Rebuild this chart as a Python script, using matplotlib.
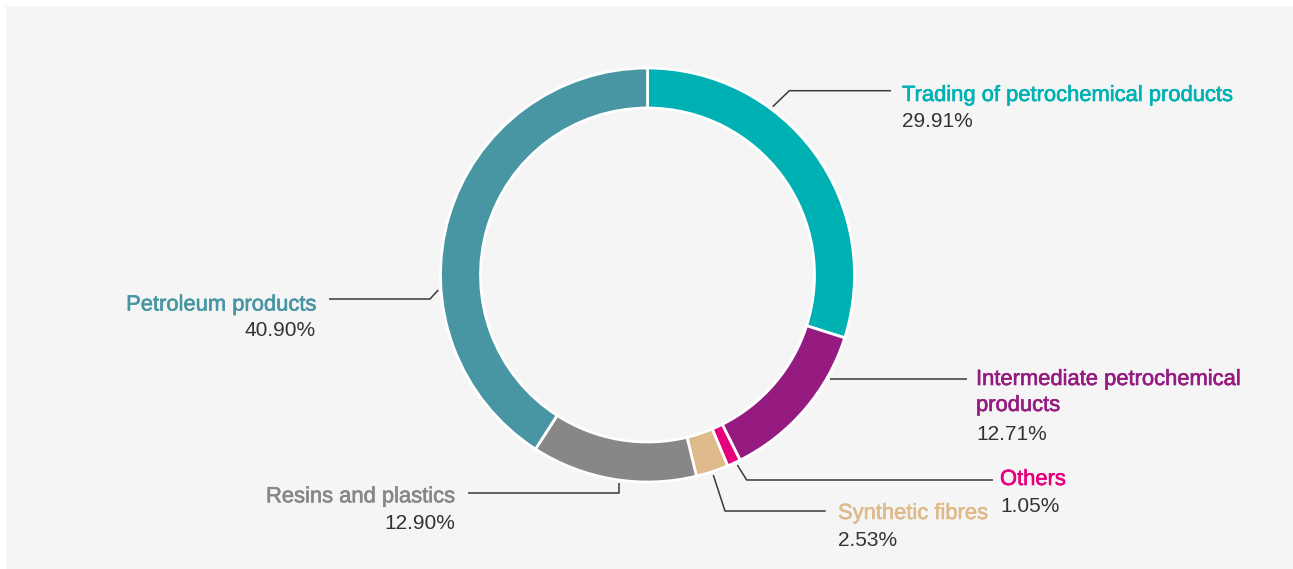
import matplotlib
matplotlib.use("Agg")
import matplotlib.pyplot as plt
import matplotlib.patheffects as pe
from matplotlib.patches import Rectangle

# sales breakdown by segment, clockwise from 12 o'clock
segments = ["Trading of petrochemical products", "Intermediate petrochemical\nproducts",
            "Others", "Synthetic fibres", "Resins and plastics", "Petroleum products"]
shares = [29.91, 12.71, 1.05, 2.53, 12.90, 40.90]
colors = ["#00b1b4", "#951b81", "#e5007d", "#dfba8b", "#878787", "#4896a3"]

W, H = 1293, 569
plt.rcParams['font.family'] = ['Liberation Sans', 'DejaVu Sans']

fig = plt.figure(figsize=(W / 100, H / 100), dpi=100, facecolor="white")
ax = fig.add_axes([0, 0, 1, 1])

ax.add_patch(Rectangle((6, 6), W, H, facecolor="#f5f5f5", edgecolor="none", zorder=0))

# y is flipped, so counterclock + startangle -90 runs clockwise from the top on screen
cx, cy, r = 647.5, 275, 207
ax.pie(shares, colors=colors, center=(cx, cy), radius=r, startangle=-90, counterclock=True,
       wedgeprops=dict(width=40, edgecolor="white", linewidth=2), frame=False)
ax.set_xlim(0, W)
ax.set_ylim(H, 0)          # pixel-style coordinates, y grows downwards
ax.set_aspect("equal")
ax.axis("off")

# leader lines (screen pixel points)
leaders = [
    [(772.7, 106.7), (789.3, 90.7), (891, 90.7)],
    [(830, 379), (966.7, 379)],
    [(737.3, 465), (746.7, 480), (993, 480)],
    [(713.3, 475), (725, 511), (825.7, 511)],
    [(619.3, 483.3), (619.3, 493.3), (467.7, 493.3)],
    [(438.3, 290), (430, 299), (329, 299)],
]
for pts in leaders:
    xs, ys = zip(*pts)
    ax.plot(xs, ys, color="#3a3a3a", lw=1.1, solid_capstyle="butt", zorder=3)

# label anchor: x, baseline of first name line, baseline of percentage, alignment
anchors = [
    (902, 101, 127, "left"),
    (976, 385, 440, "left"),
    (1000, 485, 512, "left"),
    (838, 519, 546.5, "left"),
    (455, 502.3, 529.3, "right"),
    (316, 310.5, 336, "right"),
]
for name, val, col, (x, yn, yp, ha) in zip(segments, shares, colors, anchors):
    for i, line in enumerate(name.split("\n")):
        ax.text(x, yn + 26 * i, line, color=col, fontsize=15.8, ha=ha, va="baseline",
                path_effects=[pe.withStroke(linewidth=0.45, foreground=col)])
    ax.text(x, yp, f"{val:.2f}%", color="#333333", fontsize=15, ha=ha, va="baseline")

fig.savefig("out.png", dpi=100, facecolor=fig.get_facecolor())
